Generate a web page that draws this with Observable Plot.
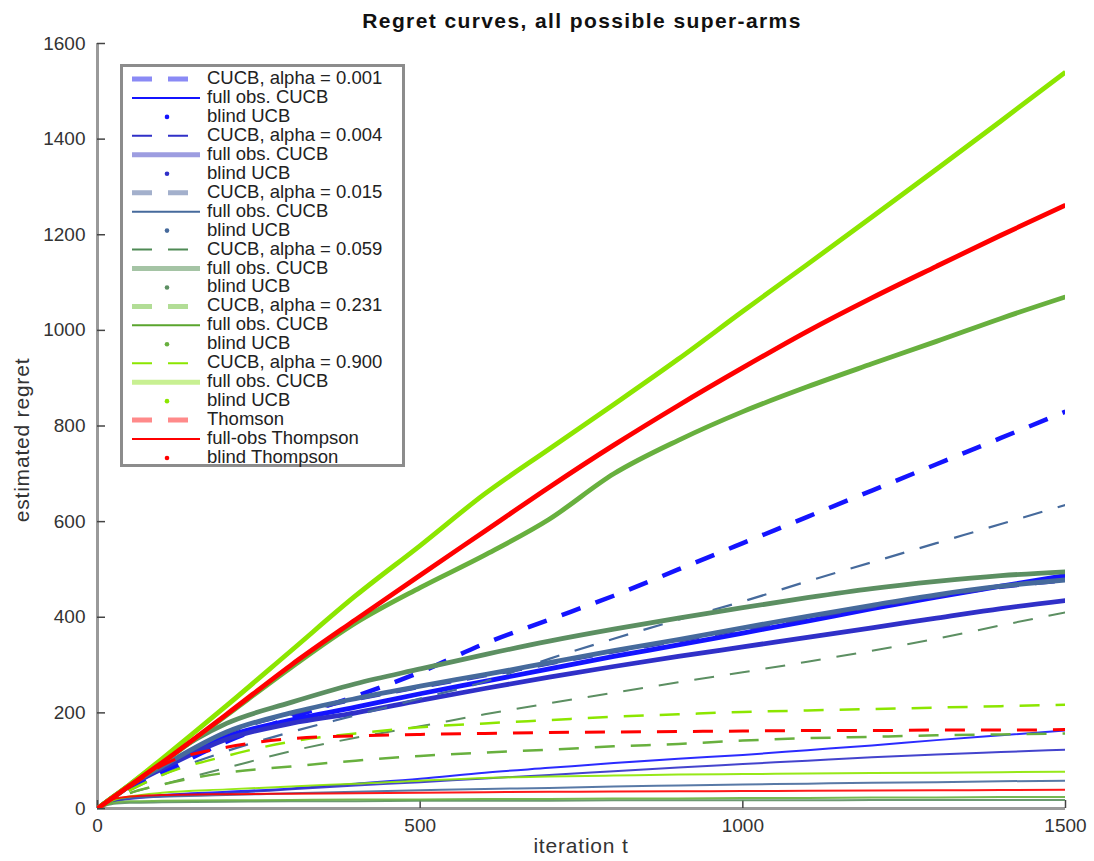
<!DOCTYPE html>
<html>
<head>
<meta charset="utf-8">
<script src="https://cdn.jsdelivr.net/npm/d3@7"></script>
<script src="https://cdn.jsdelivr.net/npm/@observablehq/plot@0.6"></script>
<style>
  body { margin: 0; background: #fff; }
  #wrap { position: relative; width: 1094px; height: 861px; overflow: hidden;
          font-family: "Liberation Sans", Arial, sans-serif; color: #222; }
  #chart { position: absolute; left: 0; top: 0; }
  #title { position: absolute; left: 582px; top: 9px; transform: translateX(-50%);
           font-weight: bold; font-size: 21px; letter-spacing: 1.4px; white-space: nowrap; color: #111; }
  #xlabel { position: absolute; left: 581px; top: 834px; transform: translateX(-50%);
            font-size: 21px; letter-spacing: 0.8px; white-space: nowrap; color: #333; }
  #ylabel { position: absolute; left: 22px; top: 440px; transform: translate(-50%, -50%) rotate(-90deg);
            font-size: 21px; letter-spacing: 0.8px; white-space: nowrap; color: #333; }
  #legend { position: absolute; left: 120px; top: 64px; }
</style>
</head>
<body>
<div id="wrap">
  <div id="chart"></div>
  <div id="title">Regret curves, all possible super-arms</div>
  <div id="xlabel">iteration t</div>
  <div id="ylabel">estimated regret</div>
  <div id="legend"></div>
</div>
<script>
// ---- data ----
const T = [0, 25, 50, 100, 200, 300, 400, 500, 600, 700, 800, 900, 1000, 1100, 1200, 1300, 1400, 1500];

const cucb001  = [0, 22, 42, 75, 140, 190, 235, 285, 345, 395, 445, 500, 555, 610, 665, 720, 775, 830];
const full001  = [0, 24, 48, 85, 150, 185, 212, 240, 266, 292, 318, 342, 367, 392, 418, 442, 465, 487];
const blind001 = [0, 15, 22, 28, 35, 42, 52, 62, 75, 85, 95, 104, 112, 122, 132, 143, 153, 163];

const cucb004  = [0, 23, 46, 86, 156, 196, 226, 252, 276, 301, 326, 349, 373, 397, 420, 442, 461, 475];
const full004  = [0, 24, 47, 83, 145, 178, 200, 226, 251, 275, 297, 318, 338, 358, 378, 398, 418, 435];
const blind004 = [0, 15, 20, 25, 32, 40, 48, 55, 63, 70, 78, 86, 93, 100, 107, 113, 118, 123];

const cucb015  = [0, 20, 38, 70, 120, 160, 195, 230, 265, 313, 355, 395, 433, 475, 515, 555, 595, 635];
const full015  = [0, 24, 48, 88, 160, 200, 230, 256, 280, 305, 330, 353, 378, 402, 425, 447, 465, 478];
const blind015 = [0, 18, 22, 25, 28, 32, 35, 38, 41, 43, 46, 48, 50, 52, 54, 55, 57, 58];

const cucb059  = [0, 18, 32, 50, 85, 120, 148, 172, 197, 220, 242, 264, 285, 307, 330, 355, 383, 410];
const full059  = [0, 25, 50, 100, 178, 222, 261, 292, 322, 350, 375, 398, 420, 441, 460, 475, 487, 495];
const blind059 = [0, 10, 12, 13, 14, 15, 15, 16, 16, 16, 17, 17, 17, 17, 18, 18, 18, 18];

const cucb231  = [0, 18, 32, 50, 75, 88, 100, 110, 117, 123, 130, 135, 142, 147, 150, 153, 155, 157];
const full231  = [0, 24, 48, 95, 195, 295, 388, 462, 530, 605, 700, 770, 830, 882, 930, 977, 1025, 1070];
const blind231 = [0, 12, 15, 16, 17, 18, 19, 19, 20, 20, 21, 21, 22, 22, 23, 23, 24, 24];

const cucb900  = [0, 20, 38, 70, 110, 140, 157, 170, 178, 185, 192, 197, 202, 205, 208, 211, 214, 217];
const full900  = [0, 25, 50, 104, 215, 330, 445, 550, 658, 752, 845, 940, 1040, 1138, 1237, 1337, 1438, 1540];
const blind900 = [0, 18, 25, 33, 40, 46, 52, 58, 64, 67, 69, 71, 72, 73, 74, 75, 76, 77];

const thompson      = [0, 22, 45, 90, 128, 146, 152, 155, 157, 159, 160, 161, 162, 163, 163, 164, 164, 165];
const fullThompson  = [0, 24, 48, 96, 197, 300, 395, 488, 580, 672, 760, 843, 922, 998, 1068, 1134, 1199, 1262];
const blindThompson = [0, 20, 25, 28, 30, 31, 32, 33, 34, 35, 35.5, 36, 36.5, 37, 37.5, 38, 38.5, 39];

const seriesValues = [
  cucb001, full001, blind001,
  cucb004, full004, blind004,
  cucb015, full015, blind015,
  cucb059, full059, blind059,
  cucb231, full231, blind231,
  cucb900, full900, blind900,
  thompson, fullThompson, blindThompson
];

const legendLabels = [
  "CUCB, alpha = 0.001", "full obs. CUCB", "blind UCB",
  "CUCB, alpha = 0.004", "full obs. CUCB", "blind UCB",
  "CUCB, alpha = 0.015", "full obs. CUCB", "blind UCB",
  "CUCB, alpha = 0.059", "full obs. CUCB", "blind UCB",
  "CUCB, alpha = 0.231", "full obs. CUCB", "blind UCB",
  "CUCB, alpha = 0.900", "full obs. CUCB", "blind UCB",
  "Thomson", "full-obs Thompson", "blind Thompson"
];

const xTicks = [0, 500, 1000, 1500];
const yTicks = [0, 200, 400, 600, 800, 1000, 1200, 1400, 1600];

// ---- styles ----
const groupColors = ["#1414ff", "#3030c8", "#466a9c", "#5c8f62", "#68b03e", "#8ce600", "#ff0000"];
const dashedWidths = [4.5, 2, 2.2, 2, 2.5, 2.5, 3];
// legend swatch look (tinted for thick entries, as in the reference legend)
const legendSwatch = [
  ["#8a8af5", 5], ["#1414ff", 2], ["#1414ff", 0],
  ["#3030c8", 2], ["#9d9de0", 5], ["#3030c8", 0],
  ["#a3b0cc", 5], ["#466a9c", 2], ["#466a9c", 0],
  ["#4f8a55", 2], ["#a5c4a5", 5], ["#5c8f62", 0],
  ["#b2dd96", 5], ["#5aa52e", 2], ["#68b03e", 0],
  ["#8ce600", 2], ["#c8f092", 5], ["#8ce600", 0],
  ["#ff8a8a", 5], ["#ff0000", 2], ["#ff0000", 0]
];

const W = 1094, H = 861;
const margin = {top: 43, right: 29, bottom: 53, left: 97};
const innerW = W - margin.left - margin.right;
const innerH = H - margin.top - margin.bottom;

const lineMarks = seriesValues.map((vals, i) => {
  const g = Math.floor(i / 3), k = i % 3;
  const data = T.map((t, j) => ({t, v: vals[j]}));
  return Plot.line(data, {
    x: "t", y: "v",
    stroke: groupColors[g],
    strokeWidth: k === 0 ? dashedWidths[g] : k === 1 ? 4.8 : 2,
    strokeDasharray: k === 0 ? "20,16" : null,
    strokeOpacity: k === 2 ? 0.9 : 1,
    strokeLinecap: "butt",
    strokeLinejoin: "round",
    curve: "monotone-x",
    clip: true
  });
});

const chart = Plot.plot({
  width: W, height: H,
  marginTop: margin.top, marginRight: margin.right,
  marginBottom: margin.bottom, marginLeft: margin.left,
  x: {domain: [0, 1500], label: null},
  y: {domain: [0, 1600], label: null},
  style: {fontFamily: "Liberation Sans, Arial, sans-serif", fontSize: "19px", color: "#333", background: "transparent"},
  marks: [
    Plot.axisX(xTicks, {tickSize: 0, tickPadding: 10, label: null, fontSize: 19, tickFormat: d => String(d)}),
    Plot.axisY(yTicks, {tickSize: 0, tickPadding: 12, label: null, fontSize: 19, tickFormat: d => String(d)}),
    Plot.ruleX([0], {stroke: "#9a9a9a", strokeWidth: 3}),
    Plot.ruleY([0], {stroke: "#9a9a9a", strokeWidth: 3}),
    Plot.tickY(yTicks, {y: d => d, stroke: "#444", strokeWidth: 1.5, insetRight: innerW - 8}),
    Plot.tickX(xTicks, {x: d => d, stroke: "#444", strokeWidth: 1.5, insetTop: innerH - 8}),
    ...lineMarks
  ]
});
document.getElementById("chart").appendChild(chart);

// ---- legend ----
const LW = 285, LH = 403, rowStep = 18.95, firstY = 15;
const lsvg = d3.select("#legend").append("svg").attr("width", LW).attr("height", LH);
lsvg.append("rect").attr("x", 1.5).attr("y", 1.5).attr("width", LW - 3).attr("height", LH - 3)
  .attr("fill", "#fff").attr("stroke", "#8c8c8c").attr("stroke-width", 3);
legendLabels.forEach((lab, i) => {
  const y = firstY + i * rowStep, k = i % 3;
  const [c, w] = legendSwatch[i];
  if (k === 0) {
    lsvg.append("line").attr("x1", 12).attr("x2", 72).attr("y1", y).attr("y2", y)
      .attr("stroke", c).attr("stroke-width", w).attr("stroke-dasharray", "20,16");
  } else if (k === 1) {
    lsvg.append("line").attr("x1", 12).attr("x2", 80).attr("y1", y).attr("y2", y)
      .attr("stroke", c).attr("stroke-width", w);
  } else {
    lsvg.append("circle").attr("cx", 47).attr("cy", y).attr("r", 2.3).attr("fill", c);
  }
  lsvg.append("text").attr("x", 87).attr("y", y + 5)
    .attr("font-family", "Liberation Sans, Arial, sans-serif").attr("font-size", 18.5)
    .attr("fill", "#222").text(lab);
});
</script>
</body>
</html>
